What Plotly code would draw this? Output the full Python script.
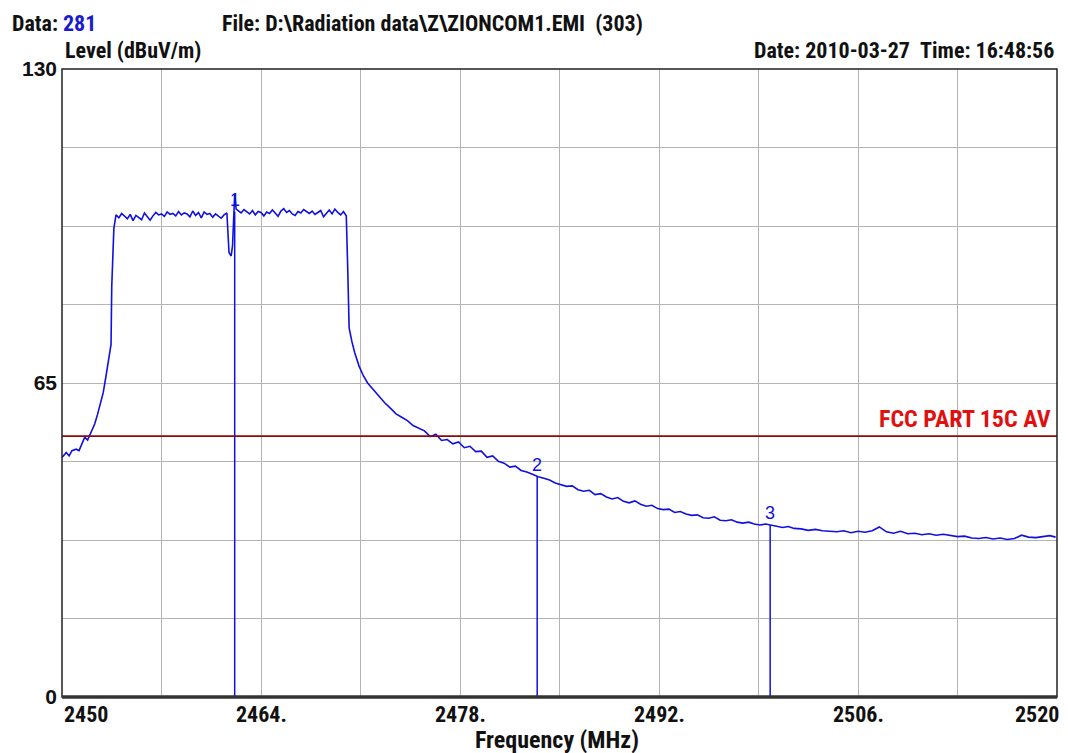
import plotly.graph_objects as go

# ---------------- data ----------------
rise_f = [2450.0, 2450.3, 2450.5, 2450.7, 2451.0, 2451.2, 2451.4, 2451.6, 2451.8, 2452.0,
          2452.3, 2452.5, 2452.7, 2452.9, 2453.1, 2453.3, 2453.45, 2453.5, 2453.6, 2453.65]
rise_v = [49.6, 50.6, 49.9, 51.0, 51.3, 51.0, 52.4, 53.8, 53.2, 54.6,
          56.5, 58.5, 60.9, 63.0, 66.5, 69.8, 73.0, 85.0, 92.5, 97.0]

plat1_f = [2453.8, 2454.0, 2454.2, 2454.4, 2454.6, 2454.8, 2455.0, 2455.2, 2455.4, 2455.6,
           2455.8, 2456.0, 2456.2, 2456.4, 2456.6, 2456.8, 2457.0, 2457.2, 2457.4, 2457.6,
           2457.8, 2458.0, 2458.2, 2458.4, 2458.6, 2458.8, 2459.0, 2459.2, 2459.4, 2459.6,
           2459.8, 2460.0, 2460.2, 2460.4, 2460.6, 2460.8, 2461.0, 2461.2, 2461.4, 2461.6]
plat1_v = [99.8, 99.2, 100.1, 99.5, 99.0, 99.9, 98.6, 99.7, 99.3, 98.8,
           100.2, 99.4, 98.7, 99.6, 100.3, 99.8, 100.0, 99.5, 100.4, 99.9,
           100.1, 99.6, 100.5, 99.8, 100.2, 100.0, 99.4, 100.6, 99.7, 100.3,
           99.2, 100.4, 99.9, 100.1, 99.3, 100.0, 99.6, 99.1, 99.8, 100.2]

dip_f = [2461.75, 2461.9, 2462.0, 2462.1, 2462.15, 2462.25]
dip_v = [92.0, 91.3, 93.5, 101.5, 104.2, 101.0]

plat2_f = [2462.4, 2462.6, 2462.8, 2463.0, 2463.2, 2463.4, 2463.6, 2463.8, 2464.0, 2464.2,
           2464.4, 2464.6, 2464.8, 2465.0, 2465.2, 2465.4, 2465.6, 2465.8, 2466.0, 2466.2,
           2466.4, 2466.6, 2466.8, 2467.0, 2467.2, 2467.4, 2467.6, 2467.8, 2468.0, 2468.2,
           2468.4, 2468.6, 2468.8, 2469.0, 2469.2, 2469.4, 2469.6, 2469.8, 2470.0]
plat2_v = [100.6, 100.2, 100.9, 100.4, 100.0, 100.7, 99.8, 100.5, 100.3, 99.6,
           100.4, 100.1, 100.8, 100.2, 99.5, 100.6, 101.1, 100.3, 100.7, 100.0,
           99.7, 100.5, 100.2, 100.9, 100.4, 100.1, 100.6, 99.9, 100.3, 100.7,
           99.4, 100.2, 100.8, 100.0, 101.0, 100.3, 99.8, 100.5, 99.6]

fall_f = [2470.1, 2470.2, 2470.4, 2470.6, 2470.9, 2471.2, 2471.5, 2471.9, 2472.3, 2472.7,
          2473.1, 2473.5, 2473.9, 2474.3, 2474.7, 2475.1, 2475.5, 2475.9, 2476.3, 2476.7,
          2477.1, 2477.5, 2477.9, 2478.3, 2478.7, 2479.1, 2479.5, 2479.9, 2480.3, 2480.7,
          2481.1, 2481.5, 2481.9, 2482.3, 2482.7, 2483.1, 2483.5, 2483.9, 2484.3, 2484.7,
          2485.1, 2485.5, 2485.9, 2486.3, 2486.7, 2487.1, 2487.5, 2487.9, 2488.3, 2488.7,
          2489.1, 2489.5, 2489.9, 2490.3, 2490.7, 2491.1, 2491.5, 2491.9, 2492.3, 2492.7,
          2493.1, 2493.5, 2493.9, 2494.3, 2494.7, 2495.1, 2495.5, 2495.9, 2496.3, 2496.7,
          2497.1, 2497.5, 2497.9, 2498.3, 2498.7, 2499.1, 2499.5, 2499.9, 2500.3, 2500.7,
          2501.1]
fall_v = [88.8, 76.4, 73.5, 71.2, 68.5, 66.5, 65.0, 63.6, 62.3, 60.9,
          59.8, 58.6, 57.9, 57.2, 56.2, 55.7, 55.1, 53.9, 54.4, 53.1,
          53.3, 52.4, 52.8, 51.6, 51.9, 50.8, 50.9, 49.6, 49.9, 48.8,
          48.4, 47.6, 47.8, 46.9, 46.6, 46.1, 45.6, 45.3, 44.9, 44.3,
          44.0, 43.6, 43.7, 42.9, 42.6, 42.8, 41.9, 42.1, 41.4, 41.0,
          41.3, 40.5, 40.2, 40.6, 39.9, 39.5, 39.7, 39.0, 38.8, 38.9,
          38.2, 38.4, 37.9, 37.6, 37.7, 37.1, 37.0, 37.3, 36.6, 36.5,
          36.7, 36.2, 36.0, 36.2, 35.8, 35.6, 35.8, 35.6, 35.3, 35.1,
          35.3]

tail_f = [2501.5, 2502.0, 2502.5, 2503.0, 2503.5, 2504.0, 2504.5, 2505.0, 2505.5, 2506.0,
          2506.5, 2507.0, 2507.5, 2508.0, 2508.5, 2509.0, 2509.5, 2510.0, 2510.5, 2511.0,
          2511.5, 2512.0, 2512.5, 2513.0, 2513.5, 2514.0, 2514.5, 2515.0, 2515.5, 2516.0,
          2516.5, 2517.0, 2517.5, 2518.0, 2518.5, 2519.0, 2519.5, 2519.9]
tail_v = [34.9, 34.8, 34.5, 34.7, 34.4, 34.3, 34.2, 34.4, 34.0, 34.3,
          34.1, 34.4, 35.2, 34.2, 33.9, 34.3, 33.8, 33.9, 33.6, 33.8,
          33.5, 33.7, 33.4, 33.2, 33.3, 32.9, 32.8, 33.0, 32.7, 32.9,
          32.6, 32.8, 33.5, 33.1, 33.0, 33.2, 33.4, 33.1]

freq = rise_f + plat1_f + dip_f + plat2_f + fall_f + tail_f
level = rise_v + plat1_v + dip_v + plat2_v + fall_v + tail_v

marker_labels = ["1", "2", "3"]
marker_freq = [2462.15, 2483.43, 2499.82]
marker_level = [100.5, 45.6, 35.6]

limit_level = 54.0
limit_label = "FCC PART 15C AV"

x_range = [2450, 2520]
y_range = [0, 130]
x_grid = [2450, 2457, 2464, 2471, 2478, 2485, 2492, 2499, 2506, 2513, 2520]
x_tick_vals = [2450, 2464, 2478, 2492, 2506, 2520]
x_tick_text = ["2450", "2464.", "2478.", "2492.", "2506.", "2520"]
y_grid = [0, 16.25, 32.5, 48.75, 65, 81.25, 97.5, 113.75, 130]
y_tick_text = ["0", "", "", "", "65", "", "", "", "130"]

# ---------------- layout constants ----------------
# the page body has an 8px margin, so figure coords = page coords - 8
OFF = 8
W, H = 1060, 745
PL, PR, PT, PB = 62, 1057, 69, 697          # plot box in page pixels
L, T = PL - OFF, PT - OFF
R = W - (PR - OFF)
B = H - (PB - OFF)
PW = W - L - R
PH = H - T - B
FONT = "Liberation Sans Narrow, Arial Narrow, Roboto Condensed, Liberation Sans, sans-serif"
BLUE = "#1010e0"

def px_x(p):
    return (p - OFF - L) / PW

def px_y(p):
    return (H - B - (p - OFF)) / PH

fig = go.Figure()

fig.add_trace(go.Scatter(x=freq, y=level, mode="lines",
                         line=dict(color=BLUE, width=1.6), hoverinfo="skip"))

mx, my = [], []
for f, v in zip(marker_freq, marker_level):
    mx += [f, f, None]
    my += [0, v, None]
fig.add_trace(go.Scatter(x=mx, y=my, mode="lines",
                         line=dict(color=BLUE, width=1.5), hoverinfo="skip"))

fig.add_trace(go.Scatter(x=x_range, y=[limit_level, limit_level], mode="lines",
                         line=dict(color="#8b0a0a", width=1.6), hoverinfo="skip"))

ann = []
for lab, f, v in zip(marker_labels, marker_freq, marker_level):
    ann.append(dict(x=f, y=v, xref="x", yref="y", text=lab, showarrow=False,
                    xanchor="center", yanchor="bottom", yshift=0,
                    font=dict(family="Liberation Sans, Arial, sans-serif", size=18, color=BLUE)))

ann.append(dict(x=x_range[1], y=limit_level, xref="x", yref="y", text="<b>" + limit_label + "</b>",
                showarrow=False, xanchor="right", yanchor="bottom", xshift=-4, yshift=1,
                font=dict(family=FONT, size=24, color="#e01010")))

for v, t in zip(x_tick_vals, x_tick_text):
    anchor = "center"
    xs = 0
    if v == x_range[0]:
        anchor = "left"
    elif v == x_range[1]:
        anchor = "right"
        xs = 4
    ann.append(dict(x=v, y=0, xref="x", yref="paper", text="<b>" + t + "</b>", showarrow=False,
                    xanchor=anchor, yanchor="top", yshift=-3, xshift=xs,
                    font=dict(family=FONT, size=22, color="#111")))

hdr_font = dict(family=FONT, size=22, color="#111")
ann.append(dict(x=px_x(10), y=px_y(9), xref="paper", yref="paper",
                text="<b>Data: <span style='color:#1a1ad0'>281</span></b>", showarrow=False,
                xanchor="left", yanchor="top", font=hdr_font))
ann.append(dict(x=px_x(220), y=px_y(9), xref="paper", yref="paper",
                text="<b>File: D:\\Radiation data\\Z\\ZIONCOM1.EMI&nbsp;&nbsp;(303)</b>", showarrow=False,
                xanchor="left", yanchor="top", font=hdr_font))
ann.append(dict(x=px_x(63), y=px_y(50), xref="paper", yref="paper",
                text="<b>Level (dBuV/m)</b>", showarrow=False,
                xanchor="left", yanchor="middle", font=hdr_font))
ann.append(dict(x=px_x(1056), y=px_y(50), xref="paper", yref="paper",
                text="<b>Date: 2010-03-27&nbsp;&nbsp;Time: 16:48:56</b>", showarrow=False,
                xanchor="right", yanchor="middle", font=hdr_font))
ann.append(dict(x=px_x(557), y=px_y(740), xref="paper", yref="paper",
                text="<b>Frequency (MHz)</b>", showarrow=False,
                xanchor="center", yanchor="middle", font=dict(family=FONT, size=24, color="#111")))

fig.update_layout(
    width=W, height=H, autosize=False,
    margin=dict(l=L, r=R, t=T, b=B, pad=0),
    paper_bgcolor="white", plot_bgcolor="white",
    showlegend=False,
    annotations=ann,
    xaxis=dict(range=x_range, tickvals=x_grid, showticklabels=False, ticks="",
               showgrid=True, gridcolor="#b4b4b4", gridwidth=1, zeroline=False,
               showline=False, fixedrange=True),
    yaxis=dict(range=y_range, tickvals=y_grid, ticktext=y_tick_text, ticks="",
               showgrid=True, gridcolor="#b4b4b4", gridwidth=1, zeroline=False,
               showline=False, ticklabelstandoff=4,
               tickfont=dict(family="Liberation Sans, Arial, sans-serif", size=21,
                             color="#111", weight="bold"),
               fixedrange=True),
    shapes=[
        dict(type="rect", xref="paper", yref="paper", x0=0, x1=1, y0=0, y1=1,
             line=dict(color="#222", width=1.5)),
        dict(type="line", xref="paper", yref="paper", x0=0, x1=1, y0=0, y1=0,
             line=dict(color="#333", width=3.5)),
    ],
)

fig.write_html("out.html")
